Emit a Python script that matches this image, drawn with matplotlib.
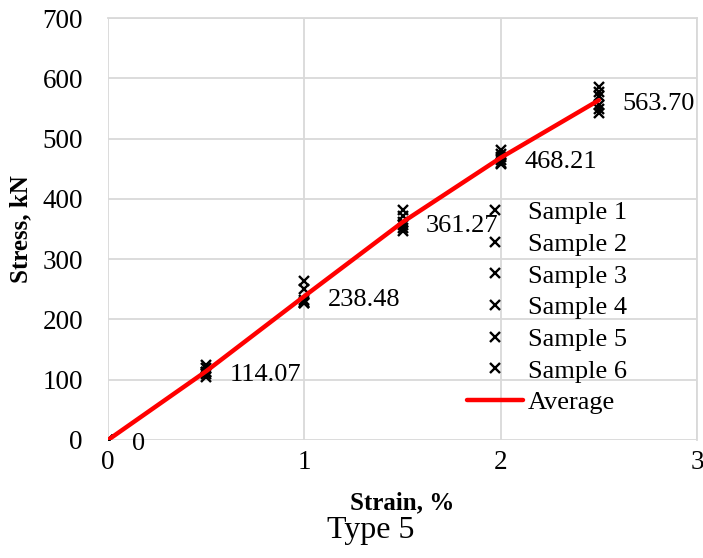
import matplotlib
matplotlib.use('Agg')
from matplotlib import pyplot as plt
import numpy as np

plt.rcParams['font.family'] = ['Liberation Serif', 'DejaVu Serif']

# strain steps, %
strain = [0, 0.5, 1, 1.5, 2, 2.5]

# stress per sample, kN
sample_1 = [0, 124, 264, 381, 481, 586]
sample_2 = [0, 120, 250, 372, 475, 578]
sample_3 = [0, 113, 233, 362, 470, 571]
sample_4 = [0, 110, 229, 356, 465, 556]
sample_5 = [0, 105, 227, 351, 460, 549]
sample_6 = [0, 112, 228, 346, 458, 542]
samples = [sample_1, sample_2, sample_3, sample_4, sample_5, sample_6]
sample_names = ['Sample 1', 'Sample 2', 'Sample 3', 'Sample 4', 'Sample 5', 'Sample 6']

average = [0, 114.07, 238.48, 361.27, 468.21, 563.70]
average_labels = ['0', '114.07', '238.48', '361.27', '468.21', '563.70']

x_ticks = [0, 1, 2, 3]
y_ticks = [0, 100, 200, 300, 400, 500, 600, 700]

fig = plt.figure(figsize=(7.03, 5.58), dpi=100)
ax = fig.add_axes([0.1536, 0.2115, 0.8379, 0.7562])

for vals, name in zip(samples, sample_names):
    ax.plot(strain, vals, linestyle='none', marker='x', color='black',
            markersize=6.5, markeredgewidth=1.7, label=name, zorder=3)

ax.plot(strain, average, color='#ff0000', linewidth=3.2, label='Average',
        solid_capstyle='round', zorder=4)

for xv, yv, lab in zip(strain, average, average_labels):
    ax.annotate(lab, (xv, yv), xytext=(17, -3), textcoords='offset points',
                ha='left', va='center', fontsize=19)

ax.set_xlim(0, 3)
ax.set_ylim(0, 700)
ax.set_xticks(x_ticks)
ax.set_yticks(y_ticks)
ax.tick_params(length=0, labelsize=19.5)
ax.tick_params(axis='y', pad=18)
ax.tick_params(axis='x', pad=7)
for s in ax.spines.values():
    s.set_visible(False)
ax.grid(True, color='#d9d9d9', linewidth=1.3)
ax.set_axisbelow(True)
# grid lines at the limits act as the frame
ax.axhline(700, color='#d9d9d9', linewidth=1.3, zorder=0, clip_on=False)
ax.axvline(3, color='#d9d9d9', linewidth=1.3, zorder=0, clip_on=False)

ax.set_ylabel('Stress, kN', fontsize=18, fontweight='bold', labelpad=7)
ax.set_xlabel('Strain, %', fontsize=18, fontweight='bold', labelpad=12)
fig.text(0.527, 0.024, 'Type 5', ha='center', va='bottom', fontsize=23)

leg = ax.legend(loc='upper left', bbox_to_anchor=(0.665, 0.64),
                bbox_transform=fig.transFigure, frameon=False, fontsize=19,
                handlelength=2.1, handletextpad=0.2, labelspacing=0.31,
                borderpad=0, borderaxespad=0)

fig.savefig('out.png', dpi=100)
